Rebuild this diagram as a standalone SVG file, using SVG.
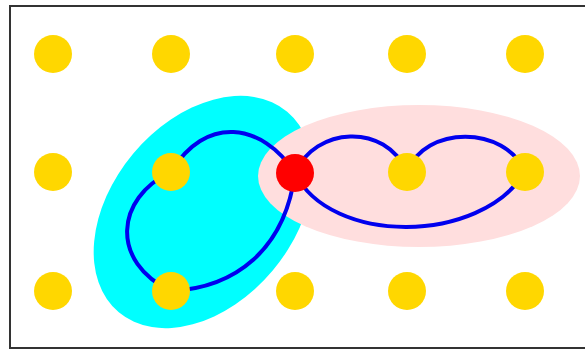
<svg xmlns="http://www.w3.org/2000/svg" width="585" height="350" viewBox="0 0 585 350">
<style>
.dot{fill:#ffd700}
.hub{fill:#ff0000}
.edge{fill:none;stroke:#0000ee;stroke-width:4;stroke-linecap:round}
</style>
<rect x="0" y="0" width="585" height="350" fill="#ffffff"/>
<rect x="10" y="6" width="590" height="342" fill="#ffffff" stroke="#333333" stroke-width="2"/>
<g id="regions">
<ellipse id="cyan-region" cx="203" cy="212" rx="131" ry="91" transform="rotate(-50 203 212)" fill="#00ffff"/>
<ellipse id="pink-region" cx="419" cy="176" rx="161" ry="71" fill="#ffdede"/>
</g>
<g id="connectors">
<path class="edge" d="M295,173 C262,122 205,115 171,172"/>
<path class="edge" d="M171,172 C115,198 110,262 171,291"/>
<path class="edge" d="M171,291 C235,288 285,250 295,173"/>
<path class="edge" d="M295,173 C315,127 385,122 407,172"/>
<path class="edge" d="M407,172 C425,125 505,125 525,172"/>
<path class="edge" d="M295,173 C330,245 480,245 525,172"/>
</g>
<g id="n-1-1"><circle class="dot" cx="53" cy="54" r="19"/></g>
<g id="n-1-2"><circle class="dot" cx="171" cy="54" r="19"/></g>
<g id="n-1-3"><circle class="dot" cx="295" cy="54" r="19"/></g>
<g id="n-1-4"><circle class="dot" cx="407" cy="54" r="19"/></g>
<g id="n-1-5"><circle class="dot" cx="525" cy="54" r="19"/></g>
<g id="n-2-1"><circle class="dot" cx="53" cy="172" r="19"/></g>
<g id="n-2-2"><circle class="dot" cx="171" cy="172" r="19"/></g>
<g id="n-2-3"><circle class="hub" cx="295" cy="173" r="19"/></g>
<g id="n-2-4"><circle class="dot" cx="407" cy="172" r="19"/></g>
<g id="n-2-5"><circle class="dot" cx="525" cy="172" r="19"/></g>
<g id="n-3-1"><circle class="dot" cx="53" cy="291" r="19"/></g>
<g id="n-3-2"><circle class="dot" cx="171" cy="291" r="19"/></g>
<g id="n-3-3"><circle class="dot" cx="295" cy="291" r="19"/></g>
<g id="n-3-4"><circle class="dot" cx="407" cy="291" r="19"/></g>
<g id="n-3-5"><circle class="dot" cx="525" cy="291" r="19"/></g>
</svg>
